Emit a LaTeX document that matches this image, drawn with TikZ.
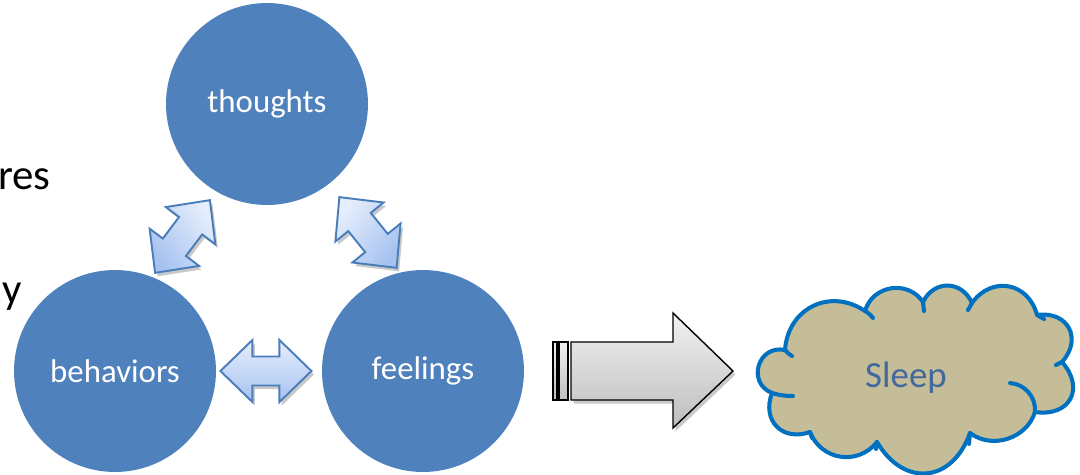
\documentclass[tikz,border=0pt]{standalone}
\usepackage{fontspec}
\setmainfont{Carlito}
\usetikzlibrary{shadows,calc}
\definecolor{circblue}{HTML}{4F81BD}
\definecolor{arrline}{HTML}{4A7EBB}
\definecolor{arrlight}{HTML}{E6EEFC}
\definecolor{arrdark}{HTML}{A6C2F0}
\definecolor{cloudfill}{HTML}{C4BD97}
\definecolor{cloudline}{HTML}{0070C0}
\definecolor{sleeptext}{HTML}{44689E}
\definecolor{biglight}{HTML}{F2F2F2}
\definecolor{bigdark}{HTML}{BDBDBD}
\tikzset{
  bubble/.style={circle, fill=circblue, minimum size=4.04cm, inner sep=0pt,
    text=white, font=\fontsize{18.7}{22}\selectfont},
  dblarr/.style={draw=arrline, line width=1.1pt, line join=miter,
    top color=arrlight, bottom color=arrdark,
    drop shadow={shadow xshift=0.5mm, shadow yshift=-0.7mm, opacity=0.3, fill=black!70}},
  bigarr/.style={draw=black, line width=0.8pt, line join=miter,
    top color=biglight, bottom color=bigdark,
    drop shadow={shadow xshift=0.5mm, shadow yshift=-0.7mm, opacity=0.3, fill=black!70}},
  stripebox/.style={draw=black, line width=0.8pt, top color=biglight, bottom color=bigdark},
  cloudpath/.style={draw=cloudline, line width=2.3pt, fill=cloudfill, line join=round},
  cloudmark/.style={draw=cloudline, line width=2.3pt, line cap=round},
  sidetext/.style={inner sep=0pt, font=\fontsize{24.4}{29}\selectfont, text=black},
  pics/dblarrow/.style={code={
    \path[dblarr, shading angle=#1] (-45.5,0) -- (-13.5,-31) -- (-13.5,-14.5) -- (13.5,-14.5)
      -- (13.5,-31) -- (45.5,0) -- (13.5,31) -- (13.5,14.5) -- (-13.5,14.5)
      -- (-13.5,31) -- cycle;
  }}
}
\begin{document}
\begin{tikzpicture}[x=0.02cm, y=-0.02cm]
\useasboundingbox (0,0) rectangle (1080,474);

% side text (cut at the left edge)
\node[sidetext, anchor=base east] (res) at (51,189) {res};
\node[sidetext, anchor=base east] (ytxt) at (22.5,303) {y};

% circles
\node[bubble] (thoughts) at (267,104) {thoughts};
\node[bubble] (behaviors) at (115,371) {behaviors};
\node[bubble] (feelings) at (423,371) {feelings};

% double arrows
\pic[rotate=53] at (182.5,236.5) {dblarrow=-53};
\pic[rotate=-51] at (368,232.5) {dblarrow=51};
\pic at ($(behaviors)!0.49!(feelings)$) {dblarrow=0};

% big arrow
\path[bigarr] (571,342) -- (673,342) -- (673,313) -- (733,371) -- (673,428)
  -- (673,400) -- (571,400) -- cycle;
\path[stripebox] (553,342) rectangle (557,400);
\path[stripebox] (559,342) rectangle (568,400);

% cloud
\coordinate (j1) at (785,350);
\coordinate (j2) at (865,311);
\coordinate (j3) at (923,302);
\coordinate (j4) at (972,303);
\coordinate (j5) at (1037,315);
\coordinate (j6) at (1062,362);
\coordinate (j7) at (1035,412);
\coordinate (j8) at (970,433);
\coordinate (j9) at (877,442);
\coordinate (j10) at (810,432);
\coordinate (j11) at (772,393);
\path[cloudpath] (j11)
  to[bend left=85, looseness=1.57] (j1)
  to[bend left=60, looseness=1.21] (j2)
  to[bend left=65, looseness=1.18] (j3)
  to[bend left=65, looseness=1.30] (j4)
  to[bend left=65, looseness=1.31] (j5)
  to[bend left=70, looseness=1.50] (j6)
  to[bend left=70, looseness=1.59] (j7)
  to[bend left=55, looseness=1.04] (j8)
  to[bend left=65, looseness=1.45] (j9)
  to[bend left=60, looseness=1.16] (j10)
  to[bend left=65, looseness=1.39] (j11) -- cycle;
% inner puff marks
\draw[cloudmark] (j1) to[bend right=10] (792,356);
\draw[cloudmark] (j2) to[bend left=10] (873,318);
\draw[cloudmark] (j3) -- (924,311);
\draw[cloudmark] (j4) -- (968,310);
\draw[cloudmark] (j5) -- (1044,319);
\draw[cloudmark] (j6) -- (1056,365);
\draw[cloudmark] (1010,383) to[bend left=45] (j7);
\draw[cloudmark] (j8) -- (969,444);
\draw[cloudmark] (j9) -- (876,449);
\draw[cloudmark] (j10) -- (812,438);
\draw[cloudmark] (j11) to[bend right=8] (793,396);
\node[anchor=base, inner sep=0pt, text=sleeptext, font=\fontsize{21}{25}\selectfont] (sleep) at (906,387) {Sleep};
\end{tikzpicture}
\end{document}
